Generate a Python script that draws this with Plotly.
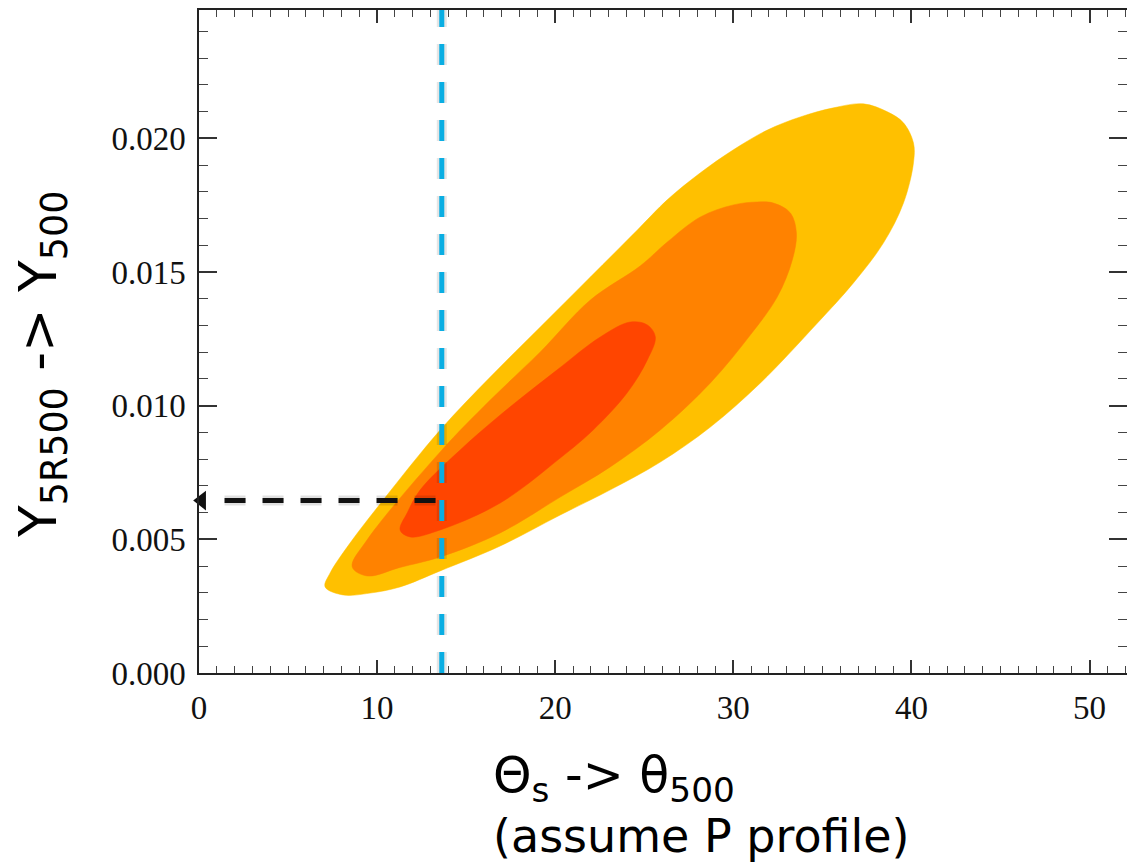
import plotly.graph_objects as go

# ---- data ----
# theta (arcmin) and Y (in units of 1e-3) along the boundary of each confidence region
outer_x = [16.91, 20.28, 23.09, 25.90, 28.71, 31.52, 34.72, 36.74, 38.43, 39.55, 40.11, 40.11,
           39.55, 38.65, 37.30, 35.62, 33.76, 31.91, 30.00, 28.15, 26.29, 24.61, 21.97, 19.16,
           16.35, 13.54, 10.34, 8.48, 7.36, 7.08, 8.09, 9.61, 11.29, 13.54, 16.91]
outer_y = [4.75, 5.91, 6.85, 7.89, 9.20, 10.85, 13.09, 14.59, 16.09, 17.58, 19.08, 19.83,
           20.58, 20.99, 21.29, 21.14, 20.80, 20.31, 19.57, 18.71, 17.70, 16.57, 14.81, 12.94,
           11.07, 9.09, 6.47, 4.86, 3.74, 3.22, 2.92, 2.99, 3.22, 3.82, 4.75]

middle_x = [16.91, 20.28, 23.09, 25.90, 28.71, 30.96, 32.47, 33.31, 33.54, 33.20, 32.25, 31.35,
            30.00, 28.15, 26.29, 24.78, 21.97, 19.16, 16.35, 13.54, 9.44, 8.60, 9.44, 11.29,
            13.54, 16.91]
middle_y = [5.24, 6.58, 7.71, 9.09, 10.85, 12.65, 14.07, 15.45, 16.46, 17.21, 17.58, 17.62,
            17.51, 17.06, 16.12, 15.23, 13.95, 12.01, 10.21, 8.27, 4.98, 3.97, 3.63, 3.95,
            4.34, 5.24]

inner_x = [16.91, 20.28, 22.13, 24.04, 25.17, 25.62, 25.17, 24.21, 22.53, 20.11, 16.91, 14.66,
           12.42, 11.69, 11.29, 11.85, 13.54, 16.91]
inner_y = [6.36, 8.04, 9.09, 10.48, 11.71, 12.57, 13.02, 13.13, 12.57, 11.34, 9.65, 8.34,
           6.85, 5.99, 5.35, 5.09, 5.35, 6.36]

theta_s = 13.63        # vertical marker position (arcmin)
y_read = 0.00645
x_range = [0, 52.1]
y_range = [0, 0.0248]
x_ticks = [0, 10, 20, 30, 40, 50]
y_ticks = [0.000, 0.005, 0.010, 0.015, 0.020]

colors = ["#FFC000", "#FF8200", "#FF4500"]

fig = go.Figure()

for xs, ys, c in [(outer_x, outer_y, colors[0]), (middle_x, middle_y, colors[1]),
                  (inner_x, inner_y, colors[2])]:
    fig.add_trace(go.Scatter(
        x=xs, y=[v * 1e-3 for v in ys], mode="lines", fill="toself", fillcolor=c,
        line=dict(color=c, width=0.5, shape="spline", smoothing=1.0),
        hoverinfo="skip", showlegend=False))

# dashed guide lines (with a soft shadow)
fig.add_trace(go.Scatter(x=[theta_s, theta_s], y=y_range, mode="lines",
                         line=dict(color="rgba(0,0,0,0.10)", width=10, dash="21px,17px"),
                         hoverinfo="skip", showlegend=False))
fig.add_trace(go.Scatter(x=[theta_s, theta_s], y=y_range, mode="lines",
                         line=dict(color="#0AAEE3", width=5, dash="21px,17px"),
                         hoverinfo="skip", showlegend=False))

fig.add_trace(go.Scatter(x=[theta_s - 0.35, 0.7], y=[y_read, y_read], mode="lines",
                         line=dict(color="rgba(0,0,0,0.12)", width=10, dash="21px,17px"),
                         hoverinfo="skip", showlegend=False))
fig.add_trace(go.Scatter(x=[theta_s - 0.35, 0.7], y=[y_read, y_read], mode="lines",
                         line=dict(color="#111111", width=5, dash="21px,17px"),
                         hoverinfo="skip", showlegend=False))
fig.add_trace(go.Scatter(x=[0.15], y=[y_read], mode="markers",
                         marker=dict(symbol="triangle-left", size=17, color="#111111",
                                     line=dict(width=0)),
                         cliponaxis=False, hoverinfo="skip", showlegend=False))

axis_common = dict(showline=True, linecolor="#222222", linewidth=1.5, mirror="ticks",
                   ticks="inside", tickcolor="#333333", tickwidth=1.5, showgrid=False,
                   zeroline=False, automargin=False,
                   tickfont=dict(family="Liberation Serif", size=33, color="#111111"))

fig.update_xaxes(range=x_range, tickvals=x_ticks, ticklen=13, ticklabelstandoff=5,
                 minor=dict(dtick=1, ticklen=7, tickcolor="#444444", tickwidth=1.2,
                            ticks="inside", showgrid=False),
                 **axis_common)
fig.update_yaxes(range=y_range, tickvals=y_ticks, tickformat=".3f", ticklen=18,
                 ticklabelstandoff=5,
                 minor=dict(dtick=0.001, ticklen=9, tickcolor="#444444", tickwidth=1.2,
                            ticks="inside", showgrid=False),
                 **axis_common)

fig.add_annotation(text="Θ<sub>s</sub> -> θ<sub>500</sub>", xref="paper", yref="paper",
                   x=0, y=0, xanchor="left", yanchor="top", xshift=292, yshift=-72,
                   showarrow=False, font=dict(family="DejaVu Sans", size=49, color="#000000"))
fig.add_annotation(text="(assume P profile)", xref="paper", yref="paper",
                   x=0, y=0, xanchor="left", yanchor="top", xshift=292, yshift=-134,
                   showarrow=False, font=dict(family="DejaVu Sans", size=46, color="#000000"))
fig.add_annotation(text="Y<sub>5R500</sub> -> Y<sub>500</sub>", xref="paper", yref="paper",
                   x=0, y=0.4646, xanchor="center", yanchor="middle", xshift=-157, yshift=0,
                   textangle=-90, showarrow=False,
                   font=dict(family="DejaVu Sans", size=52, color="#000000"))

fig.update_layout(width=1127, height=862, margin=dict(l=199, r=0, t=10, b=189),
                  plot_bgcolor="white", paper_bgcolor="white")

fig.write_html("out.html", config={"displayModeBar": False},
               post_script="document.body.style.margin='0px';")
